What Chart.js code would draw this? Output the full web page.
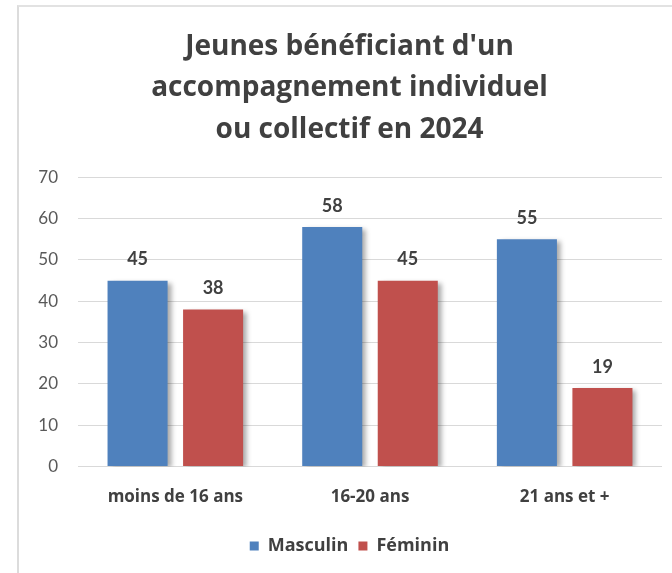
<!DOCTYPE html>
<html>
<head>
<meta charset="utf-8">
<script src="https://cdn.jsdelivr.net/npm/chart.js@4"></script>
<style>
  html, body { margin: 0; padding: 0; background: #fff; }
  #wrap { position: relative; width: 672px; height: 573px; overflow: hidden; }
  #frame { position: absolute; left: 17px; top: 5px; right: -4px; bottom: -4px;
           border-left: 2px solid #dcdcdc; border-top: 2px solid #e2e2e2; }
  #chart { position: absolute; left: 0; top: 0; }
</style>
</head>
<body>
<div id="wrap">
  <div id="frame"></div>
  <canvas id="chart" width="672" height="573"></canvas>
</div>
<script>
'use strict';

// données
const titleLines = ["Jeunes bénéficiant d'un", 'accompagnement individuel', 'ou collectif en 2024'];
const categories = ['moins de 16 ans', '16-20 ans', '21 ans et +'];
const masculin = [45, 58, 55];
const feminin = [38, 45, 19];
const yMax = 70;
const yStep = 10;

// ombre portée des barres (style Excel)
const shadowPlugin = {
  id: 'barShadow',
  beforeDatasetsDraw(chart) {
    const ctx = chart.ctx;
    ctx.save();
    ctx.shadowColor = 'rgba(0, 0, 0, 0.35)';
    ctx.shadowBlur = 5;
    ctx.shadowOffsetX = 4;
    ctx.shadowOffsetY = 2;
  },
  afterDatasetsDraw(chart) {
    chart.ctx.restore();
  }
};

// étiquettes de valeurs au-dessus des barres
const valueLabels = {
  id: 'valueLabels',
  afterDatasetsDraw(chart) {
    const ctx = chart.ctx;
    ctx.save();
    ctx.font = 'bold 18px Lato';
    ctx.fillStyle = '#404040';
    ctx.textAlign = 'center';
    ctx.textBaseline = 'middle';
    chart.data.datasets.forEach((ds, i) => {
      chart.getDatasetMeta(i).data.forEach((bar, j) => {
        ctx.fillText(String(ds.data[j]), bar.x, bar.y - 21);
      });
    });
    ctx.restore();
  }
};

const ctx = document.getElementById('chart').getContext('2d');

new Chart(ctx, {
  type: 'bar',
  data: {
    labels: categories,
    datasets: [
      {
        label: 'Masculin',
        data: masculin,
        backgroundColor: '#4F81BD',
        categoryPercentage: 0.776,
        barPercentage: 0.795,
      },
      {
        label: 'Féminin',
        data: feminin,
        backgroundColor: '#C0504D',
        categoryPercentage: 0.776,
        barPercentage: 0.795,
      }
    ]
  },
  options: {
    responsive: false,
    animation: false,
    layout: {
      padding: { left: 37, right: 10, top: 0, bottom: 8 }
    },
    scales: {
      y: {
        min: 0,
        max: yMax,
        afterFit(scale) { scale.width = 41; },
        ticks: {
          stepSize: yStep,
          padding: 20,
          color: '#595959',
          font: { family: 'Lato', size: 17 },
        },
        grid: { color: '#d9d9d9', drawTicks: false },
        border: { display: false },
      },
      x: {
        ticks: {
          padding: 20,
          color: '#404040',
          font: { family: 'Open Sans', size: 17, weight: 'bold' },
        },
        grid: { display: false, drawTicks: false },
        border: { display: false },
      }
    },
    plugins: {
      title: {
        display: true,
        text: titleLines,
        color: '#404040',
        font: { family: 'Open Sans', size: 28, weight: 'bold', lineHeight: 1.48 },
        padding: { top: 26, bottom: 27 },
      },
      legend: {
        position: 'bottom',
        labels: {
          boxWidth: 9,
          boxHeight: 9,
          padding: 10,
          color: '#404040',
          font: { family: 'Open Sans', size: 18, weight: 'bold' },
        }
      },
      tooltip: { enabled: false },
    }
  },
  plugins: [shadowPlugin, valueLabels]
});
</script>
</body>
</html>
